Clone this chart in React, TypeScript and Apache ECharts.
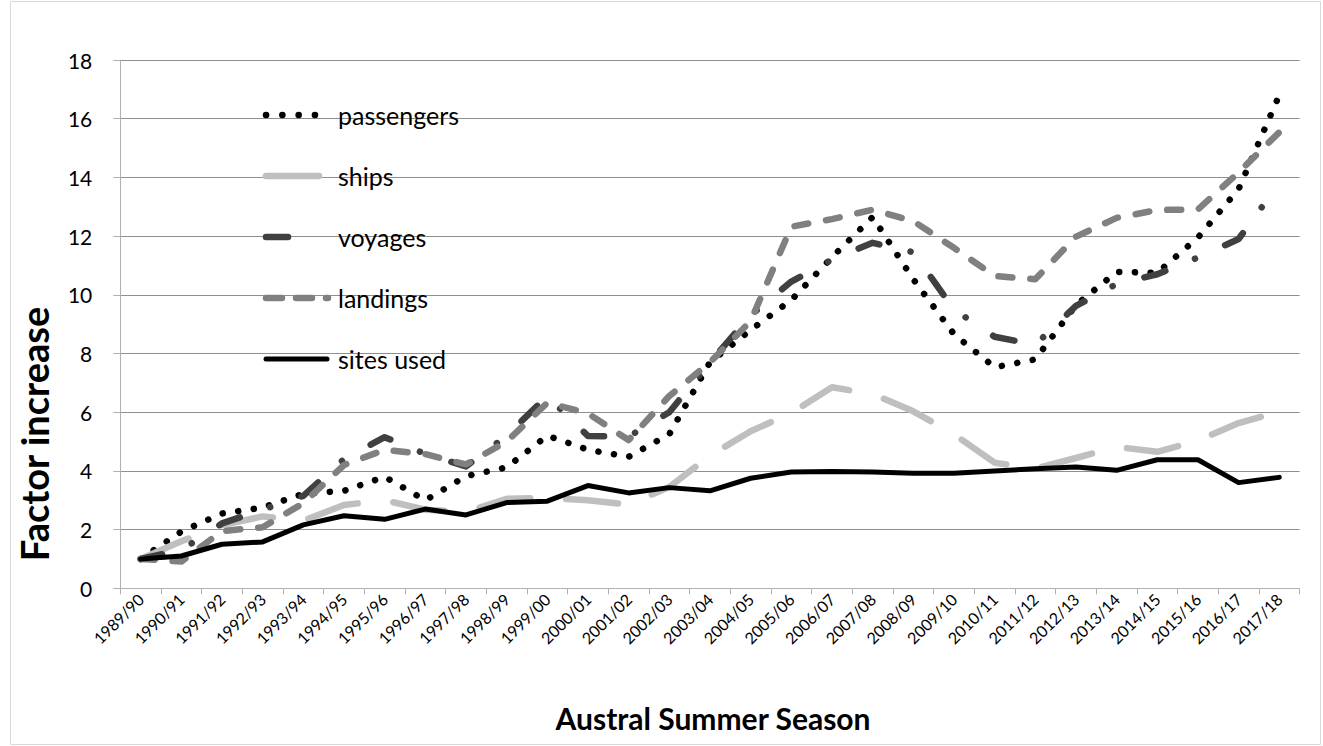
import React, { useEffect, useRef } from "react";
import * as echarts from "echarts";

const seasons = [
  "1989/90", "1990/91", "1991/92", "1992/93", "1993/94", "1994/95", "1995/96",
  "1996/97", "1997/98", "1998/99", "1999/00", "2000/01", "2001/02", "2002/03",
  "2003/04", "2004/05", "2005/06", "2006/07", "2007/08", "2008/09", "2009/10",
  "2010/11", "2011/12", "2012/13", "2013/14", "2014/15", "2015/16", "2016/17",
  "2017/18",
];

const passengers = [1.0, 1.93, 2.55, 2.75, 3.22, 3.32, 3.8, 3.0, 3.82, 4.12, 5.2, 4.72, 4.48, 5.25, 7.7, 8.8, 9.82, 11.28, 12.65, 10.53, 8.66, 7.53, 7.8, 9.65, 10.78, 10.75, 11.95, 13.6, 16.8];
const ships = [1.0, 1.6, 2.15, 2.45, 2.3, 2.84, 3.0, 2.68, 2.6, 3.05, 3.08, 3.0, 2.85, 3.45, 4.52, 5.35, 5.97, 6.85, 6.62, 6.03, 5.25, 4.28, 4.08, 4.44, 4.82, 4.65, 5.03, 5.63, 6.02];
const voyages = [1.0, 1.3, 2.21, 2.68, 3.15, 4.4, 5.15, 4.58, 4.15, 5.2, 6.55, 5.19, 5.17, 6.0, 7.7, 9.3, 10.45, 11.2, 11.77, 11.45, 9.5, 8.57, 8.3, 9.62, 10.37, 10.7, 11.27, 11.9, 13.8];
const landings = [1.0, 0.91, 1.95, 2.08, 2.9, 4.2, 4.72, 4.57, 4.22, 5.0, 6.32, 5.96, 5.05, 6.55, 7.7, 9.1, 12.32, 12.58, 12.9, 12.51, 11.6, 10.64, 10.53, 11.98, 12.62, 12.89, 12.91, 14.17, 15.54];
const sitesUsed = [1.0, 1.1, 1.5, 1.58, 2.16, 2.47, 2.35, 2.7, 2.5, 2.92, 2.97, 3.5, 3.25, 3.43, 3.32, 3.75, 3.96, 3.98, 3.96, 3.92, 3.92, 4.0, 4.07, 4.13, 4.02, 4.38, 4.38, 3.6, 3.78];

const seriesNames = ["passengers", "ships", "voyages", "landings", "sites used"];
const FONT = "Lato, 'Open Sans', sans-serif";

type Sty = { color: string; width: number; dash: number[] | "solid" };
const styles: Sty[] = [
  { color: "#000000", width: 6.5, dash: [0.1, 15.6] },
  { color: "#bfbfbf", width: 6.5, dash: [52, 36] },
  { color: "#404040", width: 6.5, dash: [22, 32, 0.1, 33] },
  { color: "#808080", width: 6.5, dash: [14, 18] },
  { color: "#000000", width: 5, dash: "solid" },
];
const legendDash: (number[] | null)[] = [[0.1, 16.2], null, [22, 31, 0.1, 40], [16, 14], null];
const legendEnd = [328, 319, 319, 328, 327];

export default function App() {
  const ref = useRef<HTMLDivElement>(null);
  useEffect(() => {
    document.body.style.margin = "0";
    const chart = echarts.init(ref.current!, null, { renderer: "svg" });
    const data = [passengers, ships, voyages, landings, sitesUsed];
    const legendY = [115, 176, 237, 298, 359];
    const graphics: any[] = [
      {
        type: "rect",
        shape: { x: 10.5, y: 1.5, width: 1310, height: 743 },
        style: { fill: "none", stroke: "#d9d9d9", lineWidth: 1 },
        silent: true,
      },
      {
        type: "text",
        x: 34,
        y: 434,
        rotation: Math.PI / 2,
        style: {
          text: "Factor increase",
          font: `bold 38px ${FONT}`,
          fill: "#000",
          textAlign: "center",
          textVerticalAlign: "middle",
        },
      },
      {
        type: "text",
        x: 713,
        y: 718,
        style: {
          text: "Austral Summer Season",
          font: `bold 30px ${FONT}`,
          fill: "#000",
          textAlign: "center",
          textVerticalAlign: "middle",
        },
      },
    ];
    seriesNames.forEach((name, i) => {
      const s = styles[i];
      const startX = 266;
      graphics.push({
        type: "line",
        z: 100,
        shape: { x1: startX, y1: legendY[i], x2: legendEnd[i], y2: legendY[i] },
        style: {
          stroke: s.color,
          lineWidth: s.width,
          lineCap: "round",
          lineDash: legendDash[i] || undefined,
        },
      });
      graphics.push({
        type: "text",
        z: 100,
        x: 338,
        y: legendY[i],
        style: {
          text: name,
          font: `25px ${FONT}`,
          fill: "#000",
          textAlign: "left",
          textVerticalAlign: "middle",
        },
      });
    });

    const option: any = {
      animation: false,
      backgroundColor: "#ffffff",
      grid: { left: 120.3, right: 23.4, top: 60, bottom: 157.7, containLabel: false },
      xAxis: {
        type: "category",
        data: seasons,
        boundaryGap: true,
        axisLine: { show: true, lineStyle: { color: "#b0b0b0", width: 1 } },
        axisTick: { show: true, length: 6, interval: 0, lineStyle: { color: "#b0b0b0" } },
        axisLabel: {
          interval: 0,
          rotate: 45,
          margin: 8,
          fontSize: 16,
          color: "#000",
          fontFamily: FONT,
        },
        splitLine: { show: false },
      },
      yAxis: {
        type: "value",
        min: 0,
        max: 18,
        interval: 2,
        axisLine: { show: true, lineStyle: { color: "#b0b0b0", width: 1 } },
        axisTick: { show: true, length: 7, lineStyle: { color: "#b0b0b0" } },
        axisLabel: { margin: 28, fontSize: 21, color: "#000", fontFamily: FONT },
        splitLine: { show: true, lineStyle: { color: "#8f8f8f", width: 1 } },
      },
      graphic: graphics,
      series: seriesNames.map((name, i) => ({
        name,
        type: "line",
        data: data[i],
        symbol: "none",
        z: 2 + i,
        lineStyle: {
          color: styles[i].color,
          width: styles[i].width,
          type: styles[i].dash,
          cap: "round",
          join: "round",
        },
      })),
    };
    chart.setOption(option);
    return () => chart.dispose();
  }, []);
  return (
    <div
      ref={ref}
      style={{ position: "absolute", left: 0, top: 0, width: 1323, height: 746, background: "#fff" }}
    />
  );
}
